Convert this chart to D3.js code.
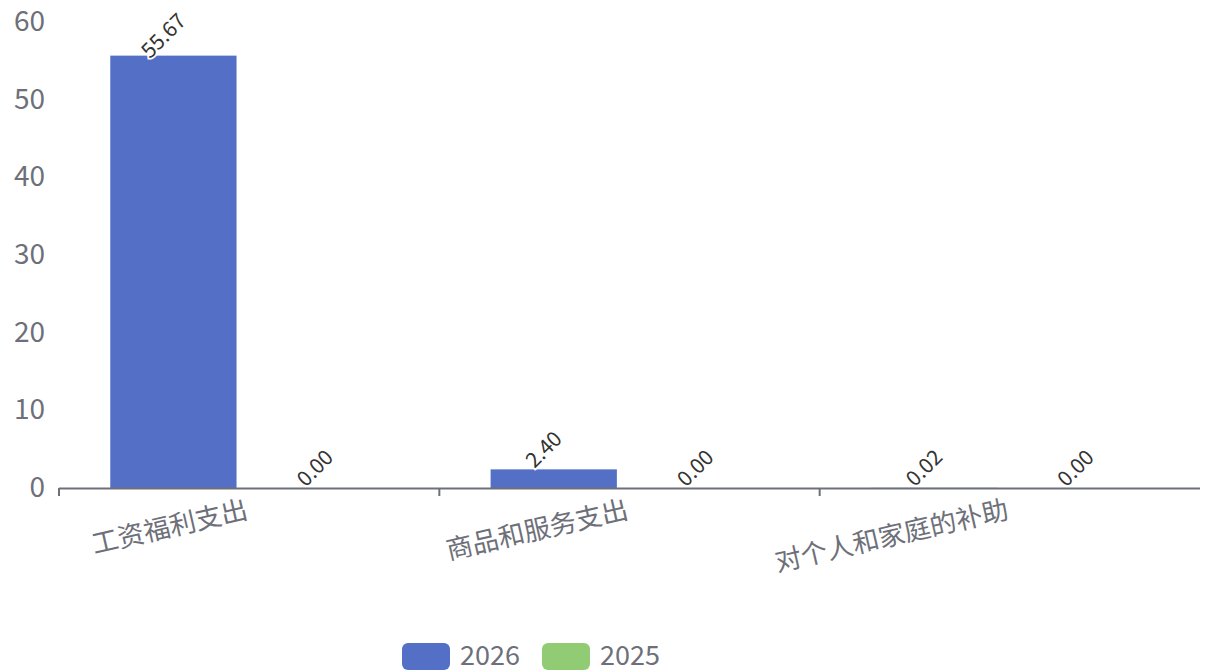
<!DOCTYPE html>
<html><head><meta charset="utf-8">
<script src="https://cdn.jsdelivr.net/npm/d3@7/dist/d3.min.js"></script>
<style>
html,body{margin:0;padding:0;background:#fff;}
svg{display:block;font-family:"Noto Sans CJK SC","Noto Sans",sans-serif;}
</style></head>
<body>
<svg id="chart" width="1207" height="672"></svg>
<script>
const categories = ["工资福利支出", "商品和服务支出", "对个人和家庭的补助"];
const seriesNames = ["2026", "2025"];
const values2026 = [55.67, 2.40, 0.02];
const values2025 = [0.00, 0.00, 0.00];
const yTicks = [0, 10, 20, 30, 40, 50, 60];
const colors = ["#5470c6", "#91cc75"];

(function () {
const svg = d3.select("#chart");
const mLeft = 59, mRight = 1200, mTop = 22, mBottom = 488;

const x = d3.scaleBand().domain(categories).range([mLeft, mRight]).paddingInner(0).paddingOuter(0);
const bw = x.bandwidth();
const barW = bw * 0.332;
const gap = barW * 0.2;
const outer = (bw - 2 * barW - gap) / 2;
const y = d3.scaleLinear().domain([0, 60]).range([mBottom, mTop]);

// y axis labels
const yAxis = d3.axisLeft(y).tickValues(yTicks).tickSize(0).tickPadding(14);
const gy = svg.append("g").attr("transform", `translate(${mLeft},0)`).call(yAxis);
gy.select(".domain").remove();
gy.selectAll("text").attr("fill", "#6e7079").style("font-size", "28px")
  .style("font-family", '"Noto Sans CJK SC","Noto Sans",sans-serif').attr("dy", "0.3em");

const series = [values2026, values2025];
series.forEach((vals, si) => {
  const g = svg.append("g");
  categories.forEach((c, i) => {
    const x0 = x(c) + outer + si * (barW + gap);
    const v = vals[i];
    const yt = y(v);
    g.append("rect").attr("x", x0).attr("y", yt).attr("width", barW)
      .attr("height", Math.max(0, mBottom - yt)).attr("fill", colors[si]);
  });
});

// x axis
const xAxis = d3.axisBottom(x).tickSize(8).tickFormat("");
const gx = svg.append("g").attr("transform", `translate(0,${mBottom})`).call(xAxis);
gx.select(".domain").attr("stroke", "#6e7079").attr("stroke-width", 2).attr("d", `M${mLeft},0.5H${mRight}`);
gx.selectAll(".tick").remove();
const tickPos = categories.map(c => x(c));
gx.selectAll("line.t").data(tickPos).enter().append("line")
  .attr("x1", d => d).attr("x2", d => d).attr("y1", 0).attr("y2", 8)
  .attr("stroke", "#6e7079").attr("stroke-width", 2);

// category labels
svg.append("g").selectAll("text").data(categories).enter().append("text")
  .attr("transform", d => `translate(${x(d) + bw / 2},${mBottom + 30}) rotate(-13)`)
  .attr("text-anchor", "end")
  .attr("fill", "#6e7079").style("font-size", "26.5px")
  .text(d => d);

// data labels
series.forEach((vals, si) => {
  categories.forEach((c, i) => {
    const cx = x(c) + outer + si * (barW + gap) + barW / 2;
    const yt = y(vals[i]);
    svg.append("text")
      .attr("transform", `translate(${cx - 10},${yt - 20}) rotate(-45)`)
      .attr("text-anchor", "middle").attr("dy", "0.35em")
      .attr("fill", "#333").attr("stroke", "#fff").attr("stroke-width", 3.5)
      .attr("paint-order", "stroke")
      .style("font-size", "21px")
      .text(vals[i].toFixed(2));
  });
});

// legend
const lg = svg.append("g");
const legendX = [402, 542];
seriesNames.forEach((n, i) => {
  lg.append("rect").attr("x", legendX[i]).attr("y", 643).attr("width", 48).attr("height", 27)
    .attr("rx", 6).attr("fill", colors[i]);
  lg.append("text").attr("x", legendX[i] + 58).attr("y", 656).attr("dy", "0.35em")
    .attr("fill", "#6e7079").style("font-size", "27px").text(n);
});
})();
</script>
</body></html>
